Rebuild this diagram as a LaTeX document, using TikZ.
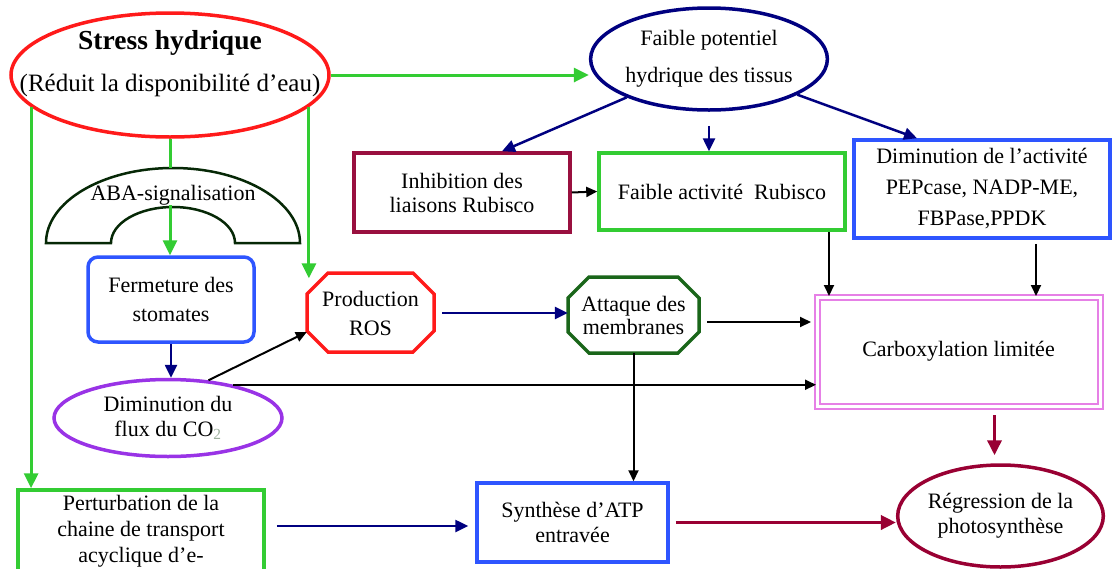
\documentclass[tikz,border=0pt]{standalone}
\usepackage{fontspec}
\setmainfont{Liberation Serif}
\usetikzlibrary{arrows.meta,shapes.geometric,calc}
\definecolor{cGreen}{HTML}{33CC33}
\definecolor{cNavy}{HTML}{000080}
\definecolor{cDred}{HTML}{990033}
\definecolor{cMaroon}{HTML}{99103F}
\definecolor{cBlue}{HTML}{2E55FF}
\definecolor{cPurp}{HTML}{9933E6}
\definecolor{cDgreen}{HTML}{1A661A}
\definecolor{cPink}{HTML}{E680E6}
\definecolor{cRed}{HTML}{FF1A1A}
\definecolor{cArch}{HTML}{062806}
\definecolor{cSub}{HTML}{9DB09D}
\tikzset{
  txt/.style={align=center, font=\fontsize{22}{25}\selectfont, inner sep=0pt},
  shp/.style={draw, line width=3.5pt, inner sep=0pt, align=center, font=\fontsize{22}{25}\selectfont},
  garrow/.style={draw=cGreen, line width=3pt, -{Triangle[length=15pt,width=14pt]}},
  gconn/.style={draw=cGreen, line width=3pt},
  narrow/.style={draw=cNavy, line width=2.5pt, -{Triangle[length=13pt,width=12pt]}},
  barrow/.style={draw=black, line width=2pt, -{Triangle[length=11pt,width=10pt]}},
  rarrow/.style={draw=cDred, line width=3.5pt, -{Triangle[length=15pt,width=14pt]}},
}
\begin{document}
\begin{tikzpicture}[x=1pt,y=-1pt]
\useasboundingbox (0,0) rectangle (1114,568);
\fill[white] (0,0) rectangle (1114,568);

% ---------- shapes ----------
\node[ellipse, draw=cRed, line width=3.5pt, minimum width=318pt, minimum height=124pt, inner sep=0pt] (stress) at (170,75) {};
\node[txt, font=\fontsize{25}{42}\selectfont] (stressT) at (170,64) {{\fontsize{27.5}{42}\selectfont\bfseries Stress hydrique}\\(Réduit la disponibilité d’eau)};

\node[ellipse, shp, draw=cNavy, minimum width=232pt, minimum height=102pt, font=\fontsize{22}{37}\selectfont] (faible) at (709,59) {Faible potentiel\\hydrique des tissus};

\draw[cArch, line width=2.5pt] (46,243) arc[start angle=180, end angle=0, x radius=127pt, y radius=75pt]
  -- (235,243) arc[start angle=0, end angle=180, x radius=62pt, y radius=36pt] -- cycle;
\node[txt] (aba) at (173,195) {ABA-signalisation};

\node[shp, draw=cMaroon, minimum width=216pt, minimum height=79pt, font=\fontsize{22}{24}\selectfont] (inhib) at (462,192.5) {Inhibition des\\liaisons Rubisco};
\node[shp, draw=cGreen, minimum width=246pt, minimum height=77pt] (fact) at (722,191.5) {Faible activité\hspace{0.5em}Rubisco};
\node[shp, draw=cBlue, minimum width=256pt, minimum height=98pt, font=\fontsize{22}{31}\selectfont] (dimact) at (982,189) {Diminution de l’activité\\PEPcase, NADP-ME,\\FBPase,PPDK};

\node[shp, draw=cBlue, rounded corners=10pt, minimum width=166pt, minimum height=85pt, font=\fontsize{22}{29}\selectfont] (ferm) at (171,299.5) {Fermeture des\\stomates};

\draw[cRed, line width=3.5pt] (328,273) -- (413,273) -- (434,294) -- (434,331) -- (413,352) -- (328,352) -- (307,331) -- (307,294) -- cycle;
\node[txt, font=\fontsize{22}{29}\selectfont, minimum width=127pt, minimum height=79pt] (ros) at (370.5,313) {Production\\ROS};

\draw[cDgreen, line width=3.5pt] (589,277) -- (678,277) -- (699,298) -- (699,332) -- (678,353) -- (589,353) -- (568,332) -- (568,298) -- cycle;
\node[txt, font=\fontsize{22}{23}\selectfont, minimum width=131pt, minimum height=76pt] (att) at (633.5,315) {Attaque des\\membranes};

\node[draw=cPink, double, double distance=3pt, line width=2pt, minimum width=283pt, minimum height=109pt, inner sep=0pt, font=\fontsize{22}{25}\selectfont] (carb) at (958.5,351.5) {Carboxylation limitée};

\node[ellipse, shp, draw=cPurp, minimum width=228pt, minimum height=77pt] (dimflux) at (168,418) {Diminution du\\flux du CO\textsubscript{\color{cSub}2}};

\node[shp, draw=cGreen, minimum width=246pt, minimum height=82pt, font=\fontsize{22}{26}\selectfont] (pert) at (141,531) {Perturbation de la\\chaine de transport\\acyclique d’e-};

\node[shp, draw=cBlue, minimum width=191pt, minimum height=79pt] (synth) at (572.5,522.5) {Synthèse d’ATP\\entravée};

\node[ellipse, shp, draw=cDred, minimum width=203pt, minimum height=102pt] (regr) at (1000.5,516) {Régression de la\\photosynthèse};

% ---------- connectors ----------
\draw[garrow] (stress.east) -- (stress.east -| faible.west);
\draw[garrow] (stress.193.6) -- (stress.193.6 |- pert.north);
\draw[garrow, shorten >=-5pt] (stress.347.8) -- (stress.347.8 |- ros.north);
\coordinate (abaTop) at (170,168);
\coordinate (abaIn) at (170,205);
\draw[gconn] (stress.south) -- (abaTop);
\draw[garrow] (abaIn) -- (abaIn |- ferm.north);

\draw[narrow] (faible.205) -- ([xshift=40pt]inhib.north);
\draw[narrow, shorten <=14pt] (faible.south) -- (faible.south |- fact.north);
\draw[narrow] (faible.338) -- ([xshift=-65pt]dimact.north);
\draw[barrow] (inhib.east) -- (fact.west);

\coordinate (factOut) at ([xshift=107pt]fact.south);
\draw[barrow] (factOut) -- (factOut |- carb.north);
\coordinate (dimOut) at ([xshift=54pt]dimact.south);
\draw[barrow, shorten <=4pt] (dimOut) -- (dimOut |- carb.north);

\draw[narrow] (ferm.south) -- (ferm.south |- dimflux.north);
\draw[barrow] (dimflux.43) -- ([yshift=-19pt]ros.west);
\draw[barrow] (dimflux.27) -- (dimflux.27 -| carb.west);
\draw[narrow, shorten <=8pt] (ros.east) -- (ros.east -| att.west);
\coordinate (attOut) at ([yshift=-7pt]att.east);
\draw[barrow, shorten <=8pt, shorten >=5pt] (attOut) -- (attOut -| carb.west);
\draw[barrow] (att.south) -- (att.south |- synth.north);

\coordinate (carbOut) at ([xshift=36pt]carb.south);
\draw[rarrow, shorten <=8pt, shorten >=8pt] (carbOut) -- (carbOut |- regr.north);
\draw[rarrow, shorten <=6pt] (synth.east) -- (synth.east -| regr.west);
\coordinate (pertOut) at ([yshift=5pt]pert.east);
\draw[narrow, shorten <=11pt, shorten >=7pt] (pertOut) -- (pertOut -| synth.west);
\end{tikzpicture}
\end{document}
